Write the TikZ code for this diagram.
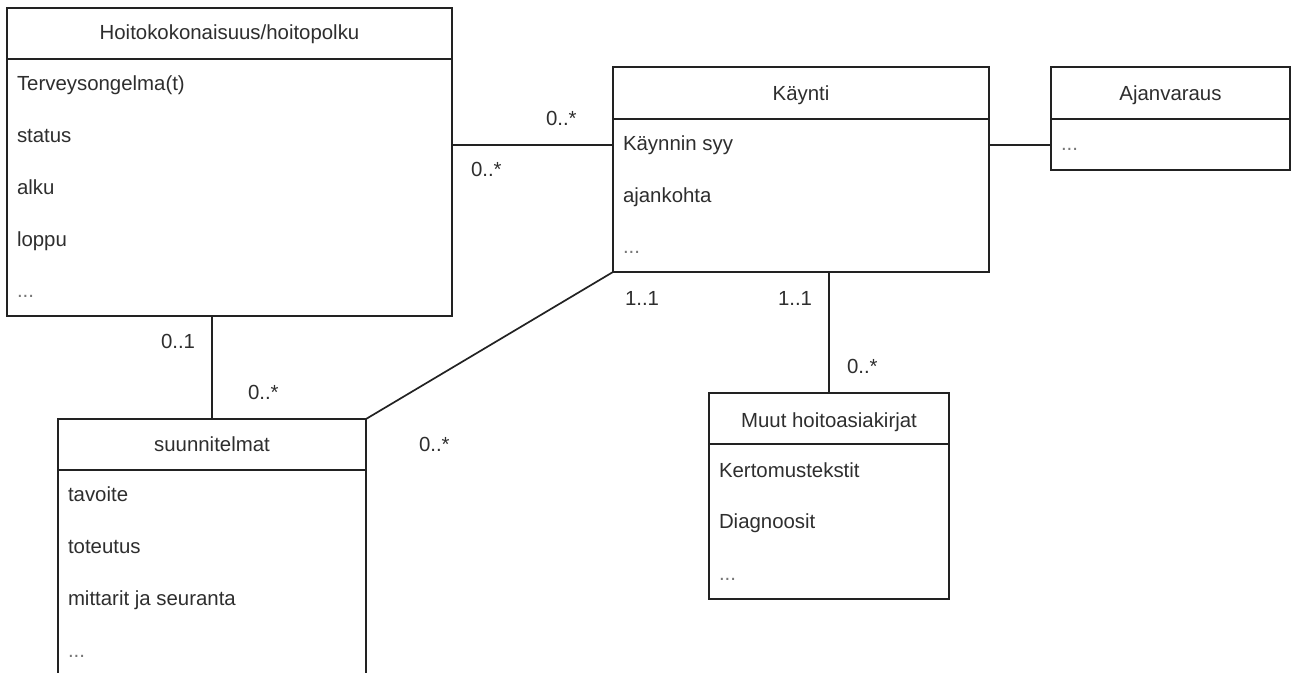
\documentclass[tikz,border=0pt]{standalone}
\usepackage{fontspec}
\setmainfont{Liberation Sans}
\definecolor{ink}{HTML}{222222}
\definecolor{txt}{HTML}{2E2E2E}
\definecolor{dots}{HTML}{777777}
\begin{document}
\begin{tikzpicture}[x=1pt,y=-1pt,
  line width=1.7pt,
  every node/.style={inner sep=0pt,outer sep=0pt},
  umlbox/.style={draw=ink,fill=white,rectangle,anchor=north west},
  title/.style={anchor=base,text=txt,font=\fontsize{20.4}{24}\selectfont},
  attr/.style={anchor=base west,text=txt,font=\fontsize{20.4}{24}\selectfont},
  more/.style={anchor=base west,text=dots,font=\fontsize{20.4}{24}\selectfont},
  mult/.style={anchor=base west,text=txt,font=\fontsize{20.4}{24}\selectfont},
  link/.style={draw=ink}]
\useasboundingbox (0,0) rectangle (1292,672);
\clip (0,0) rectangle (1292,672);

% class boxes
\node[umlbox,minimum width=445pt,minimum height=308pt] (hp) at (7,8) {};
\node[umlbox,minimum width=376pt,minimum height=205pt] (ka) at (613,67) {};
\node[umlbox,minimum width=239pt,minimum height=103pt] (av) at (1051,67) {};
\node[umlbox,minimum width=308pt,minimum height=280pt] (su) at (58,419) {};
\node[umlbox,minimum width=240pt,minimum height=206pt] (mu) at (709,393) {};

% header dividers
\draw[draw=ink] (7,59) -- (452,59);
\draw[draw=ink] (613,119) -- (989,119);
\draw[draw=ink] (1051,119) -- (1290,119);
\draw[draw=ink] (58,470) -- (366,470);
\draw[draw=ink] (709,444) -- (949,444);

% Hoitokokonaisuus/hoitopolku
\node[title] (hpt) at (229.5,39.5) {Hoitokokonaisuus/hoitopolku};
\node[attr] (hp1) at (17,90) {Terveysongelma(t)};
\node[attr] (hp2) at (17,142) {status};
\node[attr] (hp3) at (17,194) {alku};
\node[attr] (hp4) at (17,246) {loppu};
\node[more] (hp5) at (17,297) {...};

% Käynti
\node[title] (kat) at (801,100) {Käynti};
\node[attr] (ka1) at (623,150) {Käynnin syy};
\node[attr] (ka2) at (623,202) {ajankohta};
\node[more] (ka3) at (623,253) {...};

% Ajanvaraus
\node[title] (avt) at (1170.5,100) {Ajanvaraus};
\node[more] (av1) at (1061,150) {...};

% suunnitelmat
\node[title] (sut) at (212,451) {suunnitelmat};
\node[attr] (su1) at (68,501) {tavoite};
\node[attr] (su2) at (68,553) {toteutus};
\node[attr] (su3) at (68,605) {mittarit ja seuranta};
\node[more] (su4) at (68,657) {...};

% Muut hoitoasiakirjat
\node[title] (mut) at (829,427) {Muut hoitoasiakirjat};
\node[attr] (mu1) at (719,477) {Kertomustekstit};
\node[attr] (mu2) at (719,528) {Diagnoosit};
\node[more] (mu3) at (719,580) {...};

% associations
\coordinate (lane) at (0,145);
\draw[link] (hp.east |- lane) -- (ka.west |- lane);
\draw[link] (ka.east |- lane) -- (av.west |- lane);
\draw[link] (su.north) -- (su.north |- hp.south);
\draw[link] (su.north east) -- (ka.south west);
\draw[link] (mu.north) -- (mu.north |- ka.south);

% multiplicities
\node[mult] (m1) at (546,125) {0..*};
\node[mult] (m2) at (471,176) {0..*};
\node[mult] (m3) at (161,348) {0..1};
\node[mult] (m4) at (248,399) {0..*};
\node[mult] (m5) at (419,451) {0..*};
\node[mult] (m6) at (625,305) {1..1};
\node[mult] (m7) at (778,305) {1..1};
\node[mult] (m8) at (847,373) {0..*};
\end{tikzpicture}
\end{document}
